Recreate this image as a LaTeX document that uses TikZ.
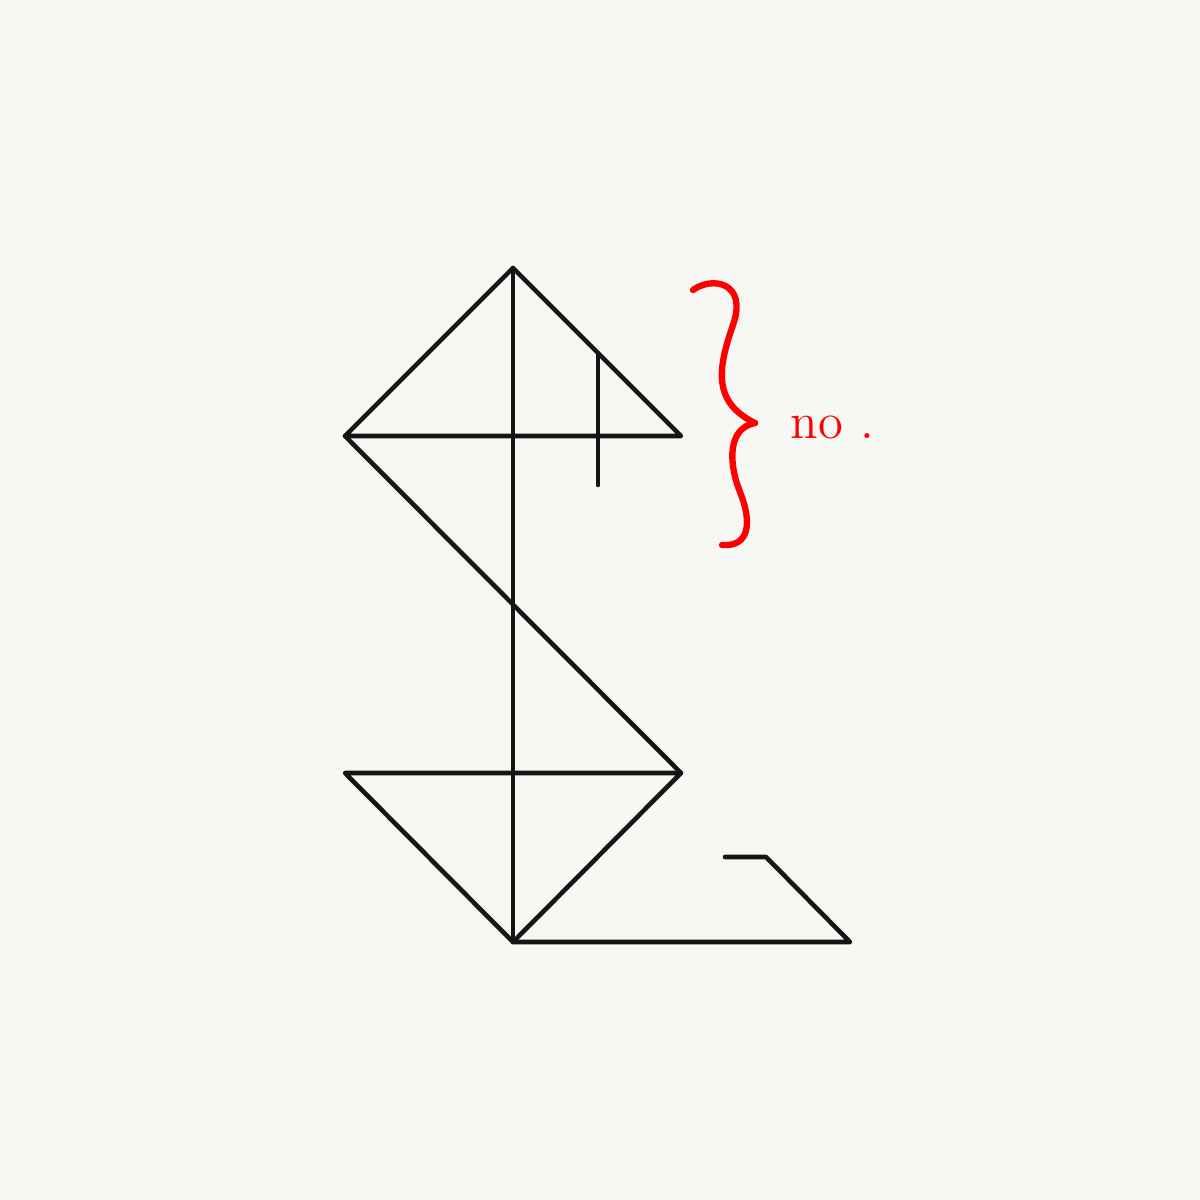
\documentclass[tikz,border=0pt]{standalone}
\usepackage{xcolor}
\usetikzlibrary{positioning}

\definecolor{paper}{HTML}{F7F7F3}
\definecolor{ink}{HTML}{151515}
\definecolor{markred}{HTML}{FF0000}

\begin{document}
\begin{tikzpicture}[x=0.01cm, y=-0.01cm, line cap=round, line join=round,
    stroke/.style={draw=ink, line width=1.3pt},
    brace/.style={draw=markred, line width=1.8pt}]
    % Background and frame
    \fill[paper] (0,0) rectangle (1200,1200);
    \useasboundingbox (0,0) rectangle (1200,1200);

    % Key points
    \coordinate (apex) at (513,268);
    \coordinate (topL) at (345,436);
    \coordinate (topR) at (681,436);
    \coordinate (midR) at (681,773);
    \coordinate (midL) at (345,773);
    \coordinate (base) at (513,942);
    \coordinate (baseR) at (850,942);
    \coordinate (hookA) at (766,857);
    \coordinate (hookB) at (725,857);
    \coordinate (tickT) at (598,353);
    \coordinate (tickB) at (598,485);

    % Upper triangle
    \draw[stroke] (topL) -- (apex) -- (topR) -- cycle;
    \draw[stroke] (tickT) -- (tickB);

    % Spine and long diagonal
    \draw[stroke] (apex) -- (base);
    \draw[stroke] (topL) -- (midR);

    % Lower triangle
    \draw[stroke] (midL) -- (midR) -- (base) -- cycle;

    % Foot
    \draw[stroke] (base) -- (baseR) -- (hookA) -- (hookB);

    % Red brace with note
    \draw[brace] (693,290) .. controls (712,276) and (748,282) .. (733,325)
        .. controls (718,368) and (712,402) .. (755,423);
    \draw[brace] (755,423) .. controls (728,428) and (728,462) .. (740,492)
        .. controls (752,522) and (750,547) .. (722,545);
    \node[text=markred, font=\Large, anchor=west, inner sep=0pt] (note) at (790,427) {no\hspace{0.35em}.};

\end{tikzpicture}
\end{document}
